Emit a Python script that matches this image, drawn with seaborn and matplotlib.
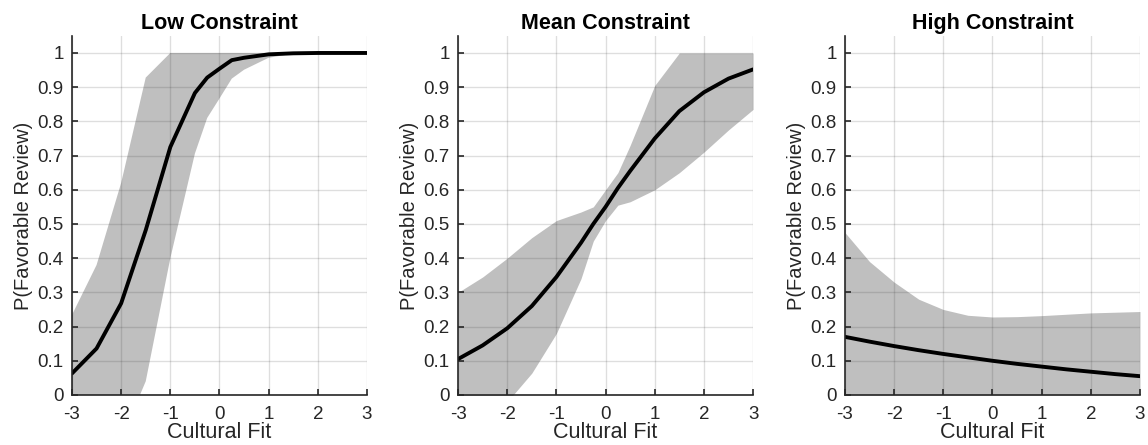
import numpy as np
import pandas as pd
import matplotlib
matplotlib.use("Agg")
import matplotlib.pyplot as plt
import seaborn as sns
from matplotlib.ticker import FuncFormatter

# ---------------- data ----------------
titles = ["Low Constraint", "Mean Constraint", "High Constraint"]

low_x = [-3, -2.5, -2, -1.5, -1, -0.5, -0.25, 0, 0.25, 0.5, 1, 1.5, 2, 2.5, 3]
low_mean = [0.063, 0.136, 0.268, 0.482, 0.725, 0.883, 0.928, 0.954, 0.979, 0.986, 0.996, 0.999, 1.0, 1.0, 1.0]
low_upper = [0.234, 0.38, 0.62, 0.928, 1.0, 1.0, 1.0, 1.0, 1.0, 1.0, 1.0, 1.0, 1.0, 1.0, 1.0]
low_lower = [-0.45, -0.3, -0.13, 0.04, 0.40, 0.706, 0.81, 0.867, 0.925, 0.951, 0.986, 0.998, 1.0, 1.0, 1.0]

mean_x = [-3, -2.5, -2, -1.5, -1, -0.5, -0.25, 0, 0.25, 0.5, 1, 1.5, 2, 2.5, 3]
mean_mean = [0.105, 0.145, 0.195, 0.26, 0.345, 0.445, 0.50, 0.55, 0.605, 0.655, 0.75, 0.83, 0.885, 0.925, 0.952]
mean_upper = [0.30, 0.345, 0.40, 0.46, 0.51, 0.535, 0.55, 0.60, 0.65, 0.73, 0.905, 1.0, 1.0, 1.0, 1.0]
mean_lower = [-0.25, -0.12, -0.02, 0.064, 0.18, 0.34, 0.45, 0.51, 0.555, 0.565, 0.60, 0.65, 0.71, 0.775, 0.835]

high_x = [-3, -2.5, -2, -1.5, -1, -0.5, 0, 0.5, 1, 1.5, 2, 2.5, 3]
high_mean = [0.17, 0.156, 0.143, 0.131, 0.12, 0.11, 0.10, 0.091, 0.083, 0.075, 0.068, 0.061, 0.055]
high_upper = [0.475, 0.39, 0.33, 0.28, 0.25, 0.233, 0.228, 0.229, 0.232, 0.236, 0.24, 0.242, 0.244]
high_lower = [0.0] * 13

x_ticks = [-3, -2, -1, 0, 1, 2, 3]
y_ticks = [0, 0.1, 0.2, 0.3, 0.4, 0.5, 0.6, 0.7, 0.8, 0.9, 1.0]
x_label = "Cultural Fit"
y_label = "P(Favorable Review)"

panels = [
    (low_x, low_mean, low_lower, low_upper),
    (mean_x, mean_mean, mean_lower, mean_upper),
    (high_x, high_mean, high_lower, high_upper),
]

# ---------------- style ----------------
sns.set_style("white")
plt.rcParams["font.family"] = ["Liberation Sans", "DejaVu Sans"]
plt.rcParams["axes.unicode_minus"] = False

fig = plt.figure(figsize=(11.48, 4.45), dpi=100)
lefts = [0.0627, 0.399, 0.736]
width = 0.257
bottom = 0.1124
height = 0.807

dark = "#262626"

def fmt(v, pos):
    s = ("%.1f" % v)
    if s.endswith(".0"):
        s = s[:-2]
    return s

for i, (xs, m, lo, up) in enumerate(panels):
    ax = fig.add_axes([lefts[i], bottom, width, height])
    df = pd.DataFrame({"x": xs, "mean": m, "lower": lo, "upper": up})
    ax.fill_between(df["x"], df["lower"], df["upper"], color="#bfbfbf",
                    linewidth=0, zorder=1)
    sns.lineplot(data=df, x="x", y="mean", ax=ax, color="black",
                 linewidth=2.8, zorder=4, estimator=None)
    ax.set_xlim(-3, 3)
    ax.set_ylim(0, 1.05)
    ax.set_xticks(x_ticks)
    ax.set_yticks(y_ticks)
    ax.yaxis.set_major_formatter(FuncFormatter(fmt))
    ax.set_axisbelow(False)
    ax.grid(True, color=dark, alpha=0.15, linewidth=1.0, zorder=2)
    for s in ["top", "right"]:
        ax.spines[s].set_visible(False)
    for s in ["left", "bottom"]:
        ax.spines[s].set_color(dark)
        ax.spines[s].set_linewidth(1.2)
        ax.spines[s].set_zorder(5)
    ax.tick_params(direction="in", length=4, width=1.2, color=dark,
                   labelsize=13.5, labelcolor=dark, bottom=True, left=True,
                   top=False, right=False)
    ax.tick_params(axis="x", pad=8)
    ax.tick_params(axis="y", pad=6)
    ax.set_xlabel(x_label, fontsize=15.5, color=dark, labelpad=-1)
    ax.set_ylabel(y_label, fontsize=14.5, color=dark, labelpad=3)
    ax.set_title(titles[i], fontsize=15.5, fontweight="bold", color="black", pad=5)

fig.savefig("out.png", dpi=100)
